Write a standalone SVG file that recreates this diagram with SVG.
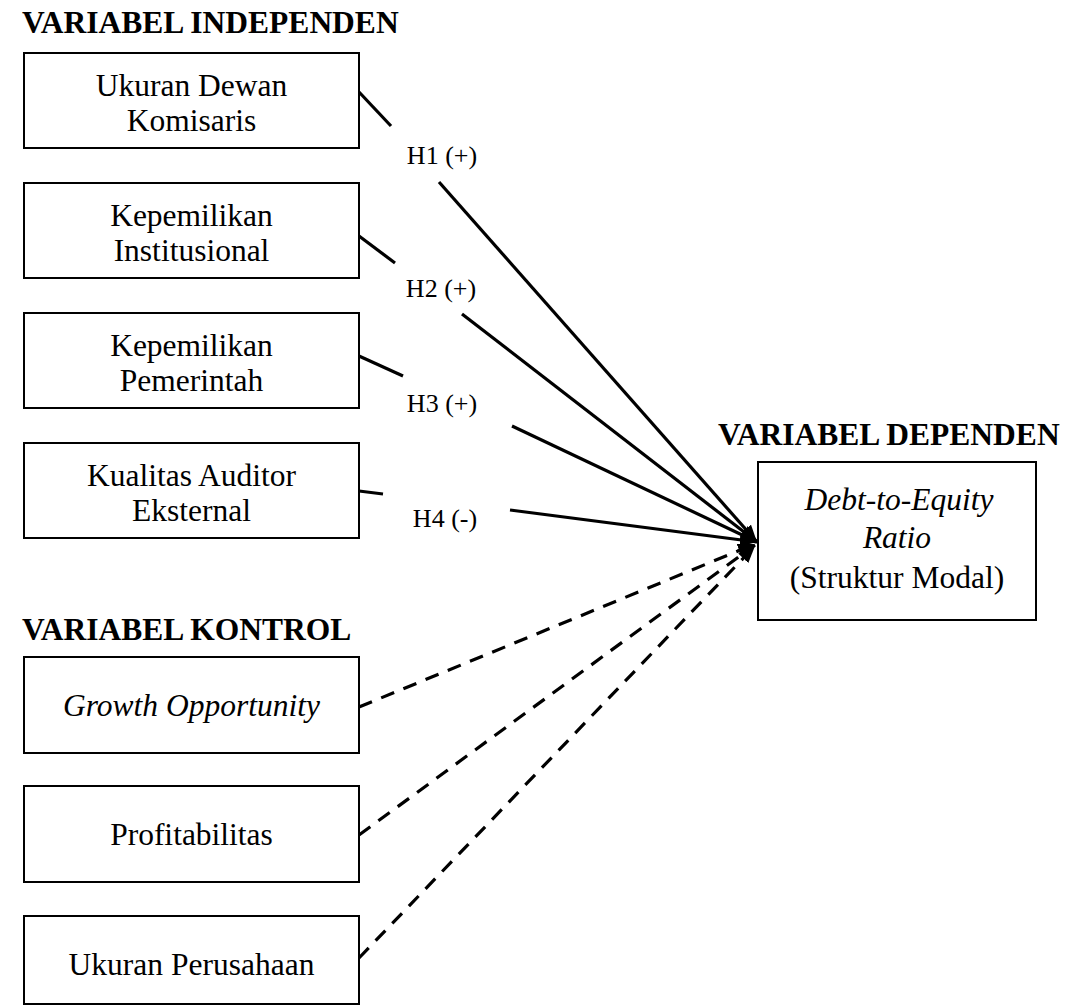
<svg xmlns="http://www.w3.org/2000/svg" width="1082" height="1007" viewBox="0 0 1082 1007">
<style>
.box{fill:#fff;stroke:#000;stroke-width:2}
.t{font-family:"Liberation Serif","Times New Roman",serif;font-size:31.5px;fill:#000;text-anchor:middle}
.i{font-style:italic}
.h{font-family:"Liberation Serif","Times New Roman",serif;font-size:31.5px;font-weight:bold;fill:#000}
.lbl{font-family:"Liberation Serif","Times New Roman",serif;font-size:26px;fill:#000;text-anchor:middle}
.ln{fill:none;stroke:#000;stroke-width:3.2}
.dash{stroke-dasharray:14 10}
</style>
<defs>
<marker id="ah" markerUnits="userSpaceOnUse" markerWidth="18" markerHeight="14" refX="17" refY="7" orient="auto">
<path d="M0,0 L17,7 L0,14 z" fill="#000" stroke="none"/>
</marker>
</defs>
<text class="h" x="22" y="33">VARIABEL INDEPENDEN</text>
<text class="h" x="718" y="445">VARIABEL DEPENDEN</text>
<text class="h" x="22" y="640">VARIABEL KONTROL</text>
<g id="connectors">
<path class="ln" d="M359,92 L391,126"/>
<path class="ln" d="M439,182 L757,542" marker-end="url(#ah)"/>
<path class="ln" d="M359,236 L395,263"/>
<path class="ln" d="M462,314 L757,542" marker-end="url(#ah)"/>
<path class="ln" d="M359,356 L403,376"/>
<path class="ln" d="M512,426 L757,542" marker-end="url(#ah)"/>
<path class="ln" d="M359,491 L383,494"/>
<path class="ln" d="M510,510 L757,542" marker-end="url(#ah)"/>
<path class="ln dash" d="M359,707 L755,544" marker-end="url(#ah)"/>
<path class="ln dash" d="M359,835 L755,545" marker-end="url(#ah)"/>
<path class="ln dash" d="M359,958 L755,546" marker-end="url(#ah)"/>
<text class="lbl" x="442" y="164">H1 (+)</text>
<text class="lbl" x="441" y="297">H2 (+)</text>
<text class="lbl" x="442" y="412">H3 (+)</text>
<text class="lbl" x="445" y="527">H4 (-)</text>
</g>
<g id="n1"><rect class="box" x="24" y="53" width="335" height="95"/><text class="t" x="191.5" y="96">Ukuran Dewan</text><text class="t" x="191.5" y="131">Komisaris</text></g>
<g id="n2"><rect class="box" x="24" y="183" width="335" height="95"/><text class="t" x="191.5" y="226">Kepemilikan</text><text class="t" x="191.5" y="261">Institusional</text></g>
<g id="n3"><rect class="box" x="24" y="313" width="335" height="95"/><text class="t" x="191.5" y="356">Kepemilikan</text><text class="t" x="191.5" y="391">Pemerintah</text></g>
<g id="n4"><rect class="box" x="24" y="443" width="335" height="95"/><text class="t" x="191.5" y="486">Kualitas Auditor</text><text class="t" x="191.5" y="521">Eksternal</text></g>
<g id="n5"><rect class="box" x="24" y="657" width="335" height="96"/><text class="t i" x="191.5" y="716">Growth Opportunity</text></g>
<g id="n6"><rect class="box" x="24" y="786" width="335" height="96"/><text class="t" x="191.5" y="845">Profitabilitas</text></g>
<g id="n7"><rect class="box" x="24" y="916" width="335" height="88"/><text class="t" x="191.5" y="975">Ukuran Perusahaan</text></g>
<g id="n8"><rect class="box" x="758" y="462" width="278" height="158"/><text class="t i" x="899" y="510">Debt-to-Equity</text><text class="t i" x="897" y="548">Ratio</text><text class="t" x="897" y="588">(Struktur Modal)</text></g>
</svg>
